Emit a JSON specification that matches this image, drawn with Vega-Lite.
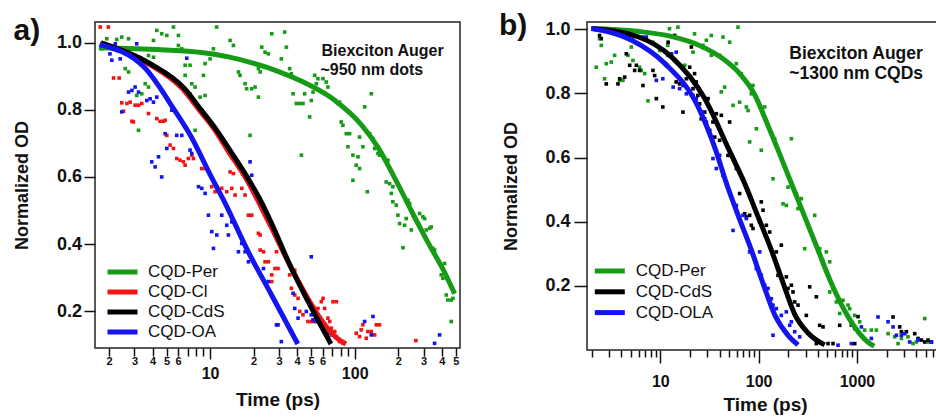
{
  "$schema": "https://vega.github.io/schema/vega-lite/v6.json",
  "background": "white",
  "padding": {"left": 12, "top": 10, "right": 0, "bottom": 0},
  "config": {
    "font": "Liberation Sans",
    "view": {"stroke": "#222222", "strokeWidth": 1.5},
    "axis": {"domain": false, "grid": false, "tickColor": "#111111", "tickWidth": 1.5, "labelColor": "#111111", "titleColor": "#111111", "labelFont": "Liberation Sans", "titleFont": "Liberation Sans", "labelFlush": false, "labelOverlap": false}
  },
  "datasets": {
    "apts": [
      {"s":"CQD-Per","t":1.93,"v":1.012},{"s":"CQD-Per","t":2.26,"v":1.010},{"s":"CQD-Per","t":2.45,"v":1.017},{"s":"CQD-Per","t":2.73,"v":1.012},{"s":"CQD-Per","t":1.78,"v":0.982},{"s":"CQD-Per","t":4.28,"v":1.037},{"s":"CQD-Per","t":4.63,"v":1.027},{"s":"CQD-Per","t":5.02,"v":1.022},{"s":"CQD-Per","t":5.58,"v":1.047},{"s":"CQD-Per","t":6.04,"v":1.022},{"s":"CQD-Per","t":11.1,"v":1.047},{"s":"CQD-Per","t":4.06,"v":1.007},{"s":"CQD-Per","t":3.65,"v":0.982},{"s":"CQD-Per","t":3.75,"v":0.962},{"s":"CQD-Per","t":4.06,"v":0.957},{"s":"CQD-Per","t":6.04,"v":0.992},{"s":"CQD-Per","t":6.37,"v":0.982},{"s":"CQD-Per","t":10.0,"v":0.952},{"s":"CQD-Per","t":10.55,"v":0.982},{"s":"CQD-Per","t":13.75,"v":1.007},{"s":"CQD-Per","t":14.5,"v":0.992},{"s":"CQD-Per","t":15.71,"v":0.913},{"s":"CQD-Per","t":16.1,"v":0.903},{"s":"CQD-Per","t":6.72,"v":0.933},{"s":"CQD-Per","t":7.27,"v":0.933},{"s":"CQD-Per","t":6.72,"v":0.903},{"s":"CQD-Per","t":9.0,"v":0.903},{"s":"CQD-Per","t":9.24,"v":0.938},{"s":"CQD-Per","t":7.47,"v":0.878},{"s":"CQD-Per","t":7.88,"v":0.868},{"s":"CQD-Per","t":7.27,"v":0.848},{"s":"CQD-Per","t":8.53,"v":0.838},{"s":"CQD-Per","t":9.24,"v":0.843},{"s":"CQD-Per","t":17.46,"v":0.878},{"s":"CQD-Per","t":17.9,"v":0.863},{"s":"CQD-Per","t":19.41,"v":0.863},{"s":"CQD-Per","t":20.47,"v":0.868},{"s":"CQD-Per","t":21.59,"v":0.838},{"s":"CQD-Per","t":22.76,"v":0.987},{"s":"CQD-Per","t":24.0,"v":0.972},{"s":"CQD-Per","t":25.3,"v":0.967},{"s":"CQD-Per","t":21.59,"v":0.923},{"s":"CQD-Per","t":22.2,"v":0.913},{"s":"CQD-Per","t":3.56,"v":0.878},{"s":"CQD-Per","t":3.75,"v":0.868},{"s":"CQD-Per","t":3.11,"v":0.843},{"s":"CQD-Per","t":3.37,"v":0.848},{"s":"CQD-Per","t":3.20,"v":0.739},{"s":"CQD-Per","t":7.88,"v":0.739},{"s":"CQD-Per","t":18.9,"v":0.724},{"s":"CQD-Per","t":26.7,"v":1.027},{"s":"CQD-Per","t":2.59,"v":0.923},{"s":"CQD-Per","t":2.73,"v":0.913},
      {"s":"CQD-Per","t":32.8,"v":1.032},{"s":"CQD-Per","t":33.7,"v":0.987},{"s":"CQD-Per","t":31.1,"v":0.952},{"s":"CQD-Per","t":35.5,"v":0.923},{"s":"CQD-Per","t":36.5,"v":0.908},{"s":"CQD-Per","t":37.5,"v":0.848},{"s":"CQD-Per","t":39.5,"v":0.819},{"s":"CQD-Per","t":41.7,"v":0.819},{"s":"CQD-Per","t":43.9,"v":0.819},{"s":"CQD-Per","t":45.1,"v":0.848},{"s":"CQD-Per","t":48.8,"v":0.779},{"s":"CQD-Per","t":50.1,"v":0.828},{"s":"CQD-Per","t":51.5,"v":0.853},{"s":"CQD-Per","t":52.9,"v":0.903},{"s":"CQD-Per","t":55.7,"v":0.893},{"s":"CQD-Per","t":54.3,"v":0.878},{"s":"CQD-Per","t":58.8,"v":0.853},{"s":"CQD-Per","t":60.4,"v":0.893},{"s":"CQD-Per","t":63.6,"v":0.883},{"s":"CQD-Per","t":65.3,"v":0.868},{"s":"CQD-Per","t":76.7,"v":0.819},{"s":"CQD-Per","t":78.6,"v":0.823},{"s":"CQD-Per","t":80.7,"v":0.764},{"s":"CQD-Per","t":82.9,"v":0.754},{"s":"CQD-Per","t":87.5,"v":0.729},{"s":"CQD-Per","t":92.2,"v":0.729},{"s":"CQD-Per","t":89.8,"v":0.690},{"s":"CQD-Per","t":97.2,"v":0.665},{"s":"CQD-Per","t":102.5,"v":0.635},{"s":"CQD-Per","t":105.4,"v":0.660},{"s":"CQD-Per","t":108.1,"v":0.719},{"s":"CQD-Per","t":108.1,"v":0.625},{"s":"CQD-Per","t":114,"v":0.690},{"s":"CQD-Per","t":117.2,"v":0.809},{"s":"CQD-Per","t":130.3,"v":0.848},{"s":"CQD-Per","t":127,"v":0.729},{"s":"CQD-Per","t":133.8,"v":0.714},{"s":"CQD-Per","t":137.4,"v":0.685},{"s":"CQD-Per","t":144.9,"v":0.670},{"s":"CQD-Per","t":148.5,"v":0.665},{"s":"CQD-Per","t":161.1,"v":0.655},{"s":"CQD-Per","t":165.2,"v":0.585},{"s":"CQD-Per","t":169.8,"v":0.650},{"s":"CQD-Per","t":174.4,"v":0.580},{"s":"CQD-Per","t":183.6,"v":0.571},{"s":"CQD-Per","t":179.1,"v":0.551},{"s":"CQD-Per","t":183.6,"v":0.526},{"s":"CQD-Per","t":194,"v":0.516},{"s":"CQD-Per","t":199.1,"v":0.486},{"s":"CQD-Per","t":204.5,"v":0.461},{"s":"CQD-Per","t":221.4,"v":0.456},{"s":"CQD-Per","t":227.3,"v":0.476},{"s":"CQD-Per","t":233.5,"v":0.531},{"s":"CQD-Per","t":239.9,"v":0.521},{"s":"CQD-Per","t":246.3,"v":0.442},{"s":"CQD-Per","t":252.9,"v":0.486},{"s":"CQD-Per","t":259.8,"v":0.476},{"s":"CQD-Per","t":281.1,"v":0.491},{"s":"CQD-Per","t":296.3,"v":0.481},{"s":"CQD-Per","t":304.5,"v":0.476},{"s":"CQD-Per","t":312.6,"v":0.442},{"s":"CQD-Per","t":329.6,"v":0.447},{"s":"CQD-Per","t":338.6,"v":0.451},{"s":"CQD-Per","t":347.6,"v":0.387},{"s":"CQD-Per","t":356.9,"v":0.382},{"s":"CQD-Per","t":397,"v":0.308},{"s":"CQD-Per","t":407.6,"v":0.298},{"s":"CQD-Per","t":418.6,"v":0.342},{"s":"CQD-Per","t":429.8,"v":0.248},{"s":"CQD-Per","t":441.3,"v":0.233},{"s":"CQD-Per","t":465.5,"v":0.233},{"s":"CQD-Per","t":478,"v":0.238},{"s":"CQD-Per","t":465.5,"v":0.169},{"s":"CQD-Per","t":42.8,"v":0.665},{"s":"CQD-Per","t":97.2,"v":0.590},{"s":"CQD-Per","t":122.3,"v":0.556},{"s":"CQD-Per","t":215.9,"v":0.389},
      {"s":"CQD-Cl","t":1.74,"v":1.047},{"s":"CQD-Cl","t":1.98,"v":1.047},{"s":"CQD-Cl","t":2.15,"v":0.895},{"s":"CQD-Cl","t":2.35,"v":0.895},{"s":"CQD-Cl","t":2.45,"v":0.821},{"s":"CQD-Cl","t":2.66,"v":0.819},{"s":"CQD-Cl","t":2.80,"v":0.823},{"s":"CQD-Cl","t":3.03,"v":0.814},{"s":"CQD-Cl","t":2.52,"v":0.796},{"s":"CQD-Cl","t":2.88,"v":0.766},{"s":"CQD-Cl","t":2.95,"v":0.764},{"s":"CQD-Cl","t":3.20,"v":0.814},{"s":"CQD-Cl","t":3.37,"v":0.819},{"s":"CQD-Cl","t":3.75,"v":0.789},{"s":"CQD-Cl","t":4.28,"v":0.774},{"s":"CQD-Cl","t":4.51,"v":0.766},{"s":"CQD-Cl","t":4.76,"v":0.766},{"s":"CQD-Cl","t":4.89,"v":0.769},{"s":"CQD-Cl","t":5.02,"v":0.724},{"s":"CQD-Cl","t":5.29,"v":0.695},{"s":"CQD-Cl","t":5.58,"v":0.685},{"s":"CQD-Cl","t":5.88,"v":0.655},{"s":"CQD-Cl","t":6.2,"v":0.650},{"s":"CQD-Cl","t":6.54,"v":0.645},{"s":"CQD-Cl","t":6.72,"v":0.635},{"s":"CQD-Cl","t":7.08,"v":0.655},{"s":"CQD-Cl","t":7.47,"v":0.665},{"s":"CQD-Cl","t":7.67,"v":0.655},{"s":"CQD-Cl","t":8.76,"v":0.625},{"s":"CQD-Cl","t":9.24,"v":0.625},{"s":"CQD-Cl","t":10.27,"v":0.571},{"s":"CQD-Cl","t":10.83,"v":0.556},{"s":"CQD-Cl","t":11.12,"v":0.571},{"s":"CQD-Cl","t":12.04,"v":0.566},{"s":"CQD-Cl","t":13.04,"v":0.556},{"s":"CQD-Cl","t":14.12,"v":0.566},{"s":"CQD-Cl","t":14.89,"v":0.546},{"s":"CQD-Cl","t":16.56,"v":0.566},{"s":"CQD-Cl","t":17.46,"v":0.546},{"s":"CQD-Cl","t":13.75,"v":0.615},{"s":"CQD-Cl","t":14.5,"v":0.610},{"s":"CQD-Cl","t":18.41,"v":0.486},{"s":"CQD-Cl","t":19.41,"v":0.486},{"s":"CQD-Cl","t":21.59,"v":0.432},{"s":"CQD-Cl","t":22.2,"v":0.427},{"s":"CQD-Cl","t":22.2,"v":0.382},{"s":"CQD-Cl","t":23.4,"v":0.377},{"s":"CQD-Cl","t":24.0,"v":0.347},{"s":"CQD-Cl","t":25.3,"v":0.347},{"s":"CQD-Cl","t":26.7,"v":0.308},{"s":"CQD-Cl","t":28.8,"v":0.377},{"s":"CQD-Cl","t":28.1,"v":0.327},{"s":"CQD-Cl","t":26.7,"v":0.288},
      {"s":"CQD-Cl","t":29.5,"v":0.327},{"s":"CQD-Cl","t":36.5,"v":0.327},{"s":"CQD-Cl","t":38.5,"v":0.322},{"s":"CQD-Cl","t":35.5,"v":0.308},{"s":"CQD-Cl","t":36.5,"v":0.268},{"s":"CQD-Cl","t":38.5,"v":0.248},{"s":"CQD-Cl","t":40.6,"v":0.238},{"s":"CQD-Cl","t":41.7,"v":0.199},{"s":"CQD-Cl","t":43.9,"v":0.189},{"s":"CQD-Cl","t":47.5,"v":0.169},{"s":"CQD-Cl","t":50.1,"v":0.169},{"s":"CQD-Cl","t":52.9,"v":0.169},{"s":"CQD-Cl","t":54.3,"v":0.189},{"s":"CQD-Cl","t":55.7,"v":0.208},{"s":"CQD-Cl","t":58.8,"v":0.228},{"s":"CQD-Cl","t":60.4,"v":0.238},{"s":"CQD-Cl","t":62.0,"v":0.208},{"s":"CQD-Cl","t":65.3,"v":0.179},{"s":"CQD-Cl","t":67.2,"v":0.169},{"s":"CQD-Cl","t":69.0,"v":0.149},{"s":"CQD-Cl","t":72.8,"v":0.139},{"s":"CQD-Cl","t":74.7,"v":0.124},{"s":"CQD-Cl","t":70.8,"v":0.228},{"s":"CQD-Cl","t":74.7,"v":0.228},{"s":"CQD-Cl","t":78.6,"v":0.109},{"s":"CQD-Cl","t":83.1,"v":0.104},{"s":"CQD-Cl","t":102.5,"v":0.134},{"s":"CQD-Cl","t":108.1,"v":0.124},{"s":"CQD-Cl","t":111,"v":0.144},{"s":"CQD-Cl","t":114,"v":0.159},{"s":"CQD-Cl","t":120.2,"v":0.119},{"s":"CQD-Cl","t":123.4,"v":0.139},{"s":"CQD-Cl","t":130.3,"v":0.139},{"s":"CQD-Cl","t":137.4,"v":0.129},{"s":"CQD-Cl","t":141.1,"v":0.159},{"s":"CQD-Cl","t":148.5,"v":0.159},{"s":"CQD-Cl","t":265,"v":0.112},
      {"s":"CQD-OA","t":2.03,"v":0.967},{"s":"CQD-OA","t":2.21,"v":0.997},{"s":"CQD-OA","t":3.11,"v":0.997},{"s":"CQD-OA","t":2.09,"v":0.948},{"s":"CQD-OA","t":2.73,"v":0.853},{"s":"CQD-OA","t":2.88,"v":0.858},{"s":"CQD-OA","t":3.03,"v":0.868},{"s":"CQD-OA","t":3.20,"v":0.853},{"s":"CQD-OA","t":2.45,"v":0.794},{"s":"CQD-OA","t":3.65,"v":0.828},{"s":"CQD-OA","t":3.85,"v":0.833},{"s":"CQD-OA","t":4.06,"v":0.823},{"s":"CQD-OA","t":4.28,"v":0.838},{"s":"CQD-OA","t":4.89,"v":0.729},{"s":"CQD-OA","t":5.02,"v":0.685},{"s":"CQD-OA","t":5.43,"v":0.799},{"s":"CQD-OA","t":5.88,"v":0.724},{"s":"CQD-OA","t":6.37,"v":0.724},{"s":"CQD-OA","t":7.27,"v":0.680},{"s":"CQD-OA","t":7.47,"v":0.670},{"s":"CQD-OA","t":3.95,"v":0.645},{"s":"CQD-OA","t":4.17,"v":0.630},{"s":"CQD-OA","t":4.40,"v":0.660},{"s":"CQD-OA","t":4.63,"v":0.600},{"s":"CQD-OA","t":8.31,"v":0.571},{"s":"CQD-OA","t":8.76,"v":0.566},{"s":"CQD-OA","t":9.24,"v":0.551},{"s":"CQD-OA","t":9.74,"v":0.486},{"s":"CQD-OA","t":10.27,"v":0.437},{"s":"CQD-OA","t":11.12,"v":0.427},{"s":"CQD-OA","t":10.55,"v":0.387},{"s":"CQD-OA","t":12.04,"v":0.486},{"s":"CQD-OA","t":13.04,"v":0.456},{"s":"CQD-OA","t":13.39,"v":0.427},{"s":"CQD-OA","t":14.12,"v":0.466},{"s":"CQD-OA","t":15.71,"v":0.377},{"s":"CQD-OA","t":16.56,"v":0.402},{"s":"CQD-OA","t":17.46,"v":0.377},{"s":"CQD-OA","t":18.41,"v":0.347},{"s":"CQD-OA","t":18.9,"v":0.645},{"s":"CQD-OA","t":19.41,"v":0.605},{"s":"CQD-OA","t":23.4,"v":0.327},{"s":"CQD-OA","t":25.3,"v":0.288},{"s":"CQD-OA","t":28.8,"v":0.159},{"s":"CQD-OA","t":6.9,"v":0.954},{"s":"CQD-OA","t":2.39,"v":0.952},
      {"s":"CQD-OA","t":50.1,"v":0.362},{"s":"CQD-OA","t":37.5,"v":0.253},{"s":"CQD-OA","t":38.5,"v":0.208},{"s":"CQD-OA","t":40.6,"v":0.179},{"s":"CQD-OA","t":46.3,"v":0.199},{"s":"CQD-OA","t":50.1,"v":0.189},{"s":"CQD-OA","t":51.5,"v":0.174},{"s":"CQD-OA","t":54.3,"v":0.169},{"s":"CQD-OA","t":57.2,"v":0.164},{"s":"CQD-OA","t":62.0,"v":0.154},{"s":"CQD-OA","t":65.3,"v":0.134},{"s":"CQD-OA","t":69.0,"v":0.129},{"s":"CQD-OA","t":29.5,"v":0.159},{"s":"CQD-OA","t":31.1,"v":0.109},{"s":"CQD-OA","t":117.2,"v":0.169},{"s":"CQD-OA","t":133.8,"v":0.184},{"s":"CQD-OA","t":130.3,"v":0.129},{"s":"CQD-OA","t":356.9,"v":0.104},{"s":"CQD-OA","t":386.6,"v":0.129}
    ],
    "afit": [
      {"s":"CQD-Per","t":1.7,"v":0.985},{"s":"CQD-Per","t":4.6,"v":0.979},{"s":"CQD-Per","t":8.7,"v":0.971},{"s":"CQD-Per","t":13.4,"v":0.958},{"s":"CQD-Per","t":19.2,"v":0.941},{"s":"CQD-Per","t":29.5,"v":0.915},{"s":"CQD-Per","t":42.6,"v":0.886},{"s":"CQD-Per","t":72,"v":0.830},{"s":"CQD-Per","t":113,"v":0.752},{"s":"CQD-Per","t":145,"v":0.688},{"s":"CQD-Per","t":189,"v":0.597},{"s":"CQD-Per","t":246,"v":0.500},{"s":"CQD-Per","t":321,"v":0.405},{"s":"CQD-Per","t":419,"v":0.315},{"s":"CQD-Per","t":491,"v":0.252},
      {"s":"CQD-Cl","t":1.76,"v":1.0},{"s":"CQD-Cl","t":3.8,"v":0.936},{"s":"CQD-Cl","t":6.4,"v":0.864},{"s":"CQD-Cl","t":8.4,"v":0.80},{"s":"CQD-Cl","t":10.7,"v":0.742},{"s":"CQD-Cl","t":13.3,"v":0.678},{"s":"CQD-Cl","t":18.0,"v":0.59},{"s":"CQD-Cl","t":25.8,"v":0.46},{"s":"CQD-Cl","t":36.3,"v":0.33},{"s":"CQD-Cl","t":48.5,"v":0.231},{"s":"CQD-Cl","t":62,"v":0.16},{"s":"CQD-Cl","t":75,"v":0.12},{"s":"CQD-Cl","t":87,"v":0.102},
      {"s":"CQD-CdS","t":1.76,"v":1.0},{"s":"CQD-CdS","t":3.91,"v":0.936},{"s":"CQD-CdS","t":6.64,"v":0.864},{"s":"CQD-CdS","t":8.67,"v":0.80},{"s":"CQD-CdS","t":11.0,"v":0.742},{"s":"CQD-CdS","t":13.8,"v":0.678},{"s":"CQD-CdS","t":18.5,"v":0.592},{"s":"CQD-CdS","t":22,"v":0.535},{"s":"CQD-CdS","t":26.4,"v":0.465},{"s":"CQD-CdS","t":36.3,"v":0.33},{"s":"CQD-CdS","t":47.3,"v":0.231},{"s":"CQD-CdS","t":68.5,"v":0.102},
      {"s":"CQD-OA","t":1.72,"v":0.995},{"s":"CQD-OA","t":3.52,"v":0.926},{"s":"CQD-OA","t":5.66,"v":0.80},{"s":"CQD-OA","t":7.4,"v":0.72},{"s":"CQD-OA","t":10.2,"v":0.60},{"s":"CQD-OA","t":12.6,"v":0.525},{"s":"CQD-OA","t":18.2,"v":0.38},{"s":"CQD-OA","t":26.4,"v":0.251},{"s":"CQD-OA","t":40.4,"v":0.102}
    ],
    "atxt": [
      {"t":59,"v":0.975,"label":"Biexciton Auger"},
      {"t":58,"v":0.918,"label":"~950 nm dots"}
    ],
    "bpts": [
      {"s":"CQD-Per","t":2.23,"v":0.882},{"s":"CQD-Per","t":2.41,"v":0.971},{"s":"CQD-Per","t":2.51,"v":0.950},{"s":"CQD-Per","t":2.71,"v":0.846},{"s":"CQD-Per","t":2.82,"v":0.893},{"s":"CQD-Per","t":3.17,"v":0.898},{"s":"CQD-Per","t":3.43,"v":0.919},{"s":"CQD-Per","t":3.86,"v":0.841},{"s":"CQD-Per","t":4.17,"v":0.841},{"s":"CQD-Per","t":4.69,"v":0.919},{"s":"CQD-Per","t":5.07,"v":0.945},{"s":"CQD-Per","t":5.27,"v":0.903},{"s":"CQD-Per","t":6.16,"v":0.882},{"s":"CQD-Per","t":6.41,"v":0.872},{"s":"CQD-Per","t":6.93,"v":0.862},{"s":"CQD-Per","t":7.49,"v":0.777},{"s":"CQD-Per","t":8.42,"v":0.960},{"s":"CQD-Per","t":9.84,"v":0.934},{"s":"CQD-Per","t":11.9,"v":0.950},{"s":"CQD-Per","t":12.4,"v":1.002},{"s":"CQD-Per","t":14.0,"v":0.976},{"s":"CQD-Per","t":15.1,"v":1.007},{"s":"CQD-Per","t":17.7,"v":0.888},{"s":"CQD-Per","t":21.5,"v":0.929},{"s":"CQD-Per","t":22.3,"v":0.986},{"s":"CQD-Per","t":27.2,"v":0.950},{"s":"CQD-Per","t":29.4,"v":0.966},{"s":"CQD-Per","t":33.0,"v":0.981},{"s":"CQD-Per","t":33.0,"v":0.919},{"s":"CQD-Per","t":40.1,"v":0.919},{"s":"CQD-Per","t":41.7,"v":0.805},{"s":"CQD-Per","t":43.4,"v":0.976},{"s":"CQD-Per","t":45.1,"v":0.820},{"s":"CQD-Per","t":50.7,"v":0.960},{"s":"CQD-Per","t":54.9,"v":0.763},{"s":"CQD-Per","t":59.3,"v":0.893},{"s":"CQD-Per","t":61.7,"v":1.007},{"s":"CQD-Per","t":64.1,"v":0.773},{"s":"CQD-Per","t":66.7,"v":0.862},{"s":"CQD-Per","t":75.0,"v":0.758},{"s":"CQD-Per","t":78.0,"v":0.747},{"s":"CQD-Per","t":81.0,"v":0.649},{"s":"CQD-Per","t":84.3,"v":0.799},{"s":"CQD-Per","t":87.6,"v":0.825},{"s":"CQD-Per","t":94.8,"v":0.690},{"s":"CQD-Per","t":106.4,"v":0.623},
      {"s":"CQD-Per","t":115.2,"v":0.758},{"s":"CQD-Per","t":145.6,"v":0.659},{"s":"CQD-Per","t":215.1,"v":0.659},{"s":"CQD-Per","t":140,"v":0.534},{"s":"CQD-Per","t":177,"v":0.456},{"s":"CQD-Per","t":191.3,"v":0.451},{"s":"CQD-Per","t":199,"v":0.508},{"s":"CQD-Per","t":241.8,"v":0.488},{"s":"CQD-Per","t":251.5,"v":0.441},{"s":"CQD-Per","t":271.9,"v":0.472},{"s":"CQD-Per","t":371.6,"v":0.420},{"s":"CQD-Per","t":293.9,"v":0.316},{"s":"CQD-Per","t":417.8,"v":0.316},{"s":"CQD-Per","t":451.7,"v":0.275},{"s":"CQD-Per","t":488.4,"v":0.306},{"s":"CQD-Per","t":528,"v":0.275},{"s":"CQD-Per","t":528,"v":0.181},{"s":"CQD-Per","t":570.9,"v":0.192},{"s":"CQD-Per","t":617.3,"v":0.150},{"s":"CQD-Per","t":667.4,"v":0.114},{"s":"CQD-Per","t":721.6,"v":0.155},{"s":"CQD-Per","t":811.5,"v":0.140},{"s":"CQD-Per","t":843.8,"v":0.129},{"s":"CQD-Per","t":948.4,"v":0.108},{"s":"CQD-Per","t":1066,"v":0.088},{"s":"CQD-Per","t":1199,"v":0.062},{"s":"CQD-Per","t":1401,"v":0.062},{"s":"CQD-Per","t":1576,"v":0.062},{"s":"CQD-Per","t":2071,"v":0.051},{"s":"CQD-Per","t":2421,"v":0.041},{"s":"CQD-Per","t":2617,"v":0.020},{"s":"CQD-Per","t":2830,"v":0.036},{"s":"CQD-Per","t":3307,"v":0.041},{"s":"CQD-Per","t":4021,"v":0.025},{"s":"CQD-Per","t":4887,"v":0.098},{"s":"CQD-Per","t":3719,"v":0.020},{"s":"CQD-Per","t":5284,"v":0.025},
      {"s":"CQD-CdS","t":2.41,"v":0.981},{"s":"CQD-CdS","t":2.51,"v":0.971},{"s":"CQD-CdS","t":2.82,"v":0.830},{"s":"CQD-CdS","t":3.71,"v":0.830},{"s":"CQD-CdS","t":3.86,"v":0.846},{"s":"CQD-CdS","t":4.51,"v":0.924},{"s":"CQD-CdS","t":4.34,"v":0.851},{"s":"CQD-CdS","t":4.88,"v":0.888},{"s":"CQD-CdS","t":5.48,"v":0.872},{"s":"CQD-CdS","t":5.70,"v":0.888},{"s":"CQD-CdS","t":6.16,"v":0.872},{"s":"CQD-CdS","t":6.66,"v":0.825},{"s":"CQD-CdS","t":8.42,"v":0.872},{"s":"CQD-CdS","t":8.76,"v":0.856},{"s":"CQD-CdS","t":9.11,"v":0.784},{"s":"CQD-CdS","t":10.6,"v":0.758},{"s":"CQD-CdS","t":12.0,"v":0.960},{"s":"CQD-CdS","t":14.0,"v":0.981},{"s":"CQD-CdS","t":14.0,"v":0.903},{"s":"CQD-CdS","t":14.5,"v":0.836},{"s":"CQD-CdS","t":15.7,"v":0.830},{"s":"CQD-CdS","t":17.0,"v":0.742},{"s":"CQD-CdS","t":18.4,"v":0.846},{"s":"CQD-CdS","t":19.9,"v":0.882},{"s":"CQD-CdS","t":20.7,"v":0.945},{"s":"CQD-CdS","t":21.5,"v":0.815},{"s":"CQD-CdS","t":22.3,"v":0.862},{"s":"CQD-CdS","t":23.2,"v":0.836},{"s":"CQD-CdS","t":24.1,"v":0.794},{"s":"CQD-CdS","t":25.1,"v":0.768},{"s":"CQD-CdS","t":26.1,"v":0.721},{"s":"CQD-CdS","t":28.3,"v":0.742},{"s":"CQD-CdS","t":30.6,"v":0.784},{"s":"CQD-CdS","t":31.8,"v":0.685},{"s":"CQD-CdS","t":34.3,"v":0.711},{"s":"CQD-CdS","t":35.7,"v":0.664},{"s":"CQD-CdS","t":37.1,"v":0.737},{"s":"CQD-CdS","t":40.1,"v":0.654},{"s":"CQD-CdS","t":41.7,"v":0.732},{"s":"CQD-CdS","t":46.9,"v":0.643},{"s":"CQD-CdS","t":48.8,"v":0.607},{"s":"CQD-CdS","t":50.7,"v":0.711},{"s":"CQD-CdS","t":54.9,"v":0.597},{"s":"CQD-CdS","t":59.3,"v":0.566},{"s":"CQD-CdS","t":64.1,"v":0.488},{"s":"CQD-CdS","t":69.3,"v":0.534},{"s":"CQD-CdS","t":72.1,"v":0.425},{"s":"CQD-CdS","t":75.0,"v":0.415},{"s":"CQD-CdS","t":81.0,"v":0.420},{"s":"CQD-CdS","t":84.3,"v":0.389},{"s":"CQD-CdS","t":87.6,"v":0.379},{"s":"CQD-CdS","t":102.4,"v":0.399},{"s":"CQD-CdS","t":106.4,"v":0.462},
      {"s":"CQD-CdS","t":110.8,"v":0.436},{"s":"CQD-CdS","t":119.8,"v":0.389},{"s":"CQD-CdS","t":129.5,"v":0.368},{"s":"CQD-CdS","t":151.4,"v":0.306},{"s":"CQD-CdS","t":157.4,"v":0.233},{"s":"CQD-CdS","t":170.2,"v":0.327},{"s":"CQD-CdS","t":191.3,"v":0.228},{"s":"CQD-CdS","t":199,"v":0.192},{"s":"CQD-CdS","t":215.1,"v":0.202},{"s":"CQD-CdS","t":223.7,"v":0.181},{"s":"CQD-CdS","t":232.6,"v":0.150},{"s":"CQD-CdS","t":251.5,"v":0.140},{"s":"CQD-CdS","t":305.6,"v":0.108},{"s":"CQD-CdS","t":330.5,"v":0.197},{"s":"CQD-CdS","t":386.4,"v":0.166},{"s":"CQD-CdS","t":417.8,"v":0.077},{"s":"CQD-CdS","t":451.7,"v":0.072},{"s":"CQD-CdS","t":507.8,"v":0.020},{"s":"CQD-CdS","t":570.9,"v":0.020},{"s":"CQD-CdS","t":667.4,"v":0.077},{"s":"CQD-CdS","t":386.4,"v":0.020},{"s":"CQD-CdS","t":948.4,"v":0.020},{"s":"CQD-CdS","t":877,"v":0.078},{"s":"CQD-CdS","t":1025,"v":0.104},{"s":"CQD-CdS","t":2328,"v":0.103},{"s":"CQD-CdS","t":2721,"v":0.072},{"s":"CQD-CdS","t":2830,"v":0.057},{"s":"CQD-CdS","t":3181,"v":0.057},{"s":"CQD-CdS","t":3867,"v":0.051},{"s":"CQD-CdS","t":4181,"v":0.036},{"s":"CQD-CdS","t":4521,"v":0.031},{"s":"CQD-CdS","t":4887,"v":0.025},{"s":"CQD-CdS","t":5284,"v":0.031},{"s":"CQD-CdS","t":5714,"v":0.025},
      {"s":"CQD-OLA","t":6.66,"v":0.976},{"s":"CQD-OLA","t":7.20,"v":0.976},{"s":"CQD-OLA","t":9.11,"v":0.841},{"s":"CQD-OLA","t":10.6,"v":0.846},{"s":"CQD-OLA","t":12.0,"v":0.919},{"s":"CQD-OLA","t":13.0,"v":0.924},{"s":"CQD-OLA","t":13.5,"v":0.820},{"s":"CQD-OLA","t":14.5,"v":0.929},{"s":"CQD-OLA","t":15.7,"v":0.815},{"s":"CQD-OLA","t":17.0,"v":0.825},{"s":"CQD-OLA","t":18.4,"v":0.799},{"s":"CQD-OLA","t":21.5,"v":0.794},{"s":"CQD-OLA","t":23.2,"v":0.784},{"s":"CQD-OLA","t":27.2,"v":0.742},{"s":"CQD-OLA","t":28.3,"v":0.721},{"s":"CQD-OLA","t":29.4,"v":0.711},{"s":"CQD-OLA","t":31.8,"v":0.670},{"s":"CQD-OLA","t":34.3,"v":0.597},{"s":"CQD-OLA","t":37.1,"v":0.566},{"s":"CQD-OLA","t":40.1,"v":0.607},{"s":"CQD-OLA","t":43.4,"v":0.545},{"s":"CQD-OLA","t":46.9,"v":0.524},{"s":"CQD-OLA","t":54.9,"v":0.373},{"s":"CQD-OLA","t":59.3,"v":0.451},{"s":"CQD-OLA","t":69.3,"v":0.420},{"s":"CQD-OLA","t":75.0,"v":0.410},{"s":"CQD-OLA","t":81.0,"v":0.306},{"s":"CQD-OLA","t":87.6,"v":0.295},{"s":"CQD-OLA","t":102.4,"v":0.306},{"s":"CQD-OLA","t":94.8,"v":0.254},
      {"s":"CQD-OLA","t":106.5,"v":0.233},{"s":"CQD-OLA","t":115.2,"v":0.202},{"s":"CQD-OLA","t":124.5,"v":0.192},{"s":"CQD-OLA","t":134.6,"v":0.160},{"s":"CQD-OLA","t":140,"v":0.140},{"s":"CQD-OLA","t":151.4,"v":0.129},{"s":"CQD-OLA","t":170.2,"v":0.108},{"s":"CQD-OLA","t":191.3,"v":0.119},{"s":"CQD-OLA","t":215.1,"v":0.088},{"s":"CQD-OLA","t":206.9,"v":0.077},{"s":"CQD-OLA","t":232.6,"v":0.057},{"s":"CQD-OLA","t":261.5,"v":0.041},{"s":"CQD-OLA","t":140,"v":0.046},{"s":"CQD-OLA","t":641.9,"v":0.015},{"s":"CQD-OLA","t":877,"v":0.020},{"s":"CQD-OLA","t":948.4,"v":0.067},{"s":"CQD-OLA","t":1109,"v":0.072},{"s":"CQD-OLA","t":1401,"v":0.036},{"s":"CQD-OLA","t":1638,"v":0.103},{"s":"CQD-OLA","t":2071,"v":0.088},{"s":"CQD-OLA","t":2328,"v":0.072},{"s":"CQD-OLA","t":2517,"v":0.046},{"s":"CQD-OLA","t":2830,"v":0.046},{"s":"CQD-OLA","t":3059,"v":0.051},{"s":"CQD-OLA","t":3439,"v":0.025},{"s":"CQD-OLA","t":4181,"v":0.031},{"s":"CQD-OLA","t":5714,"v":0.025}
    ],
    "bfit": [
      {"s":"CQD-Per","t":1.99,"v":1.003},{"s":"CQD-Per","t":5.9,"v":0.994},{"s":"CQD-Per","t":12.9,"v":0.978},{"s":"CQD-Per","t":25,"v":0.95},{"s":"CQD-Per","t":41.7,"v":0.912},{"s":"CQD-Per","t":65,"v":0.86},{"s":"CQD-Per","t":91,"v":0.797},{"s":"CQD-Per","t":120,"v":0.712},{"s":"CQD-Per","t":157.4,"v":0.624},{"s":"CQD-Per","t":215.1,"v":0.520},{"s":"CQD-Per","t":293.9,"v":0.416},{"s":"CQD-Per","t":401.6,"v":0.312},{"s":"CQD-Per","t":549,"v":0.208},{"s":"CQD-Per","t":811,"v":0.104},{"s":"CQD-Per","t":1297,"v":0.024},{"s":"CQD-Per","t":1500,"v":0.012},
      {"s":"CQD-CdS","t":1.99,"v":1.003},{"s":"CQD-CdS","t":5.93,"v":0.977},{"s":"CQD-CdS","t":12.9,"v":0.915},{"s":"CQD-CdS","t":28.2,"v":0.785},{"s":"CQD-CdS","t":50,"v":0.624},{"s":"CQD-CdS","t":72,"v":0.520},{"s":"CQD-CdS","t":98.6,"v":0.416},{"s":"CQD-CdS","t":134.6,"v":0.312},{"s":"CQD-CdS","t":176,"v":0.212},{"s":"CQD-CdS","t":232.4,"v":0.112},{"s":"CQD-CdS","t":318,"v":0.053},{"s":"CQD-CdS","t":469,"v":0.016},
      {"s":"CQD-OLA","t":1.99,"v":1.003},{"s":"CQD-OLA","t":5.07,"v":0.967},{"s":"CQD-OLA","t":11.1,"v":0.894},{"s":"CQD-OLA","t":24.2,"v":0.759},{"s":"CQD-OLA","t":36.5,"v":0.624},{"s":"CQD-OLA","t":47,"v":0.520},{"s":"CQD-OLA","t":62.5,"v":0.416},{"s":"CQD-OLA","t":84.3,"v":0.312},{"s":"CQD-OLA","t":110,"v":0.210},{"s":"CQD-OLA","t":145.6,"v":0.110},{"s":"CQD-OLA","t":200,"v":0.045},{"s":"CQD-OLA","t":251.5,"v":0.016}
    ],
    "btxt": [
      {"t":205,"v":0.924,"label":"Biexciton Auger"},
      {"t":205,"v":0.862,"label":"~1300 nm CQDs"}
    ]
  },
  "spacing": 32,
  "resolve": {"scale": {"color": "independent", "fill": "independent", "x": "independent", "y": "independent"}, "legend": {"color": "independent", "fill": "independent"}},
  "hconcat": [
    {
      "width": 365,
      "height": 326,
      "title": {"text": "a)", "anchor": "start", "frame": "bounds", "fontSize": 30, "fontWeight": "bold", "font": "Liberation Sans", "color": "#111111", "offset": 0, "dx": 0, "dy": 24},
      "encoding": {
        "x": {"field": "t", "type": "quantitative", "scale": {"type": "log", "domain": [1.6, 535], "nice": false},
          "axis": {
            "values": [2,3,4,5,6,7,8,9,10,20,30,40,50,60,70,80,90,100,200,300,400,500],
            "format": "d",
            "labelExpr": "(datum.value == 10 || datum.value == 100) ? datum.label : (indexof([2,3,4,5,6,20,30,40,50,60,200,300,400,500], datum.value) >= 0 ? substring(datum.label, 0, 1) : '')",
            "tickSize": {"condition": {"test": "datum.value == 10 || datum.value == 100", "value": 11}, "value": 8},
            "labelFontSize": {"condition": {"test": "datum.value == 10 || datum.value == 100", "value": 16}, "value": 11},
            "labelPadding": {"condition": {"test": "datum.value == 10 || datum.value == 100", "value": 6}, "value": 5},
            "labelBaseline": {"condition": {"test": "datum.value == 10 || datum.value == 100", "value": "top"}, "value": "middle"},
            "labelFontWeight": "bold",
            "title": "Time (ps)", "titleFontSize": 19, "titleFontWeight": "bold", "titlePadding": 9
          }},
        "y": {"field": "v", "type": "quantitative", "scale": {"domain": [0.09, 1.062], "nice": false, "zero": false},
          "axis": {"values": [0.2,0.4,0.6,0.8,1.0], "format": ".1f", "tickSize": 11, "labelFontSize": 18, "labelFontWeight": "bold", "labelPadding": 2.5, "title": "Normalized OD", "titleFontSize": 18, "titleFontWeight": "bold", "titlePadding": 25}}
      },
      "layer": [
        {"data": {"name": "apts"}, "mark": {"type": "square", "size": 13, "opacity": 1},
         "encoding": {"fill": {"field": "s", "type": "nominal", "scale": {"domain": ["CQD-OA","CQD-CdS","CQD-Cl","CQD-Per"], "range": ["#1414f0","#000000","#f21414","#169b16"]}, "legend": null}}},
        {"data": {"name": "afit"}, "transform": [{"filter": "datum.s == 'CQD-Per'"}], "mark": {"type": "line", "strokeWidth": 5, "interpolate": "monotone"},
         "encoding": {"color": {"field": "s", "type": "nominal", "scale": {"domain": ["CQD-Per","CQD-Cl","CQD-CdS","CQD-OA"], "range": ["#169b16","#f21414","#000000","#1414f0"]}, "legend": {"title": null, "orient": "none", "legendX": 17.5, "legendY": 240, "symbolType": "M-2,0H2", "symbolSize": 225, "symbolStrokeWidth": 5, "labelFontSize": 17, "labelFont": "Liberation Sans", "labelColor": "#111111", "labelOffset": 15.5, "rowPadding": -0.7, "padding": 0}}}},
        {"data": {"name": "afit"}, "transform": [{"filter": "datum.s == 'CQD-Cl'"}], "mark": {"type": "line", "strokeWidth": 5, "interpolate": "monotone"},
         "encoding": {"color": {"field": "s", "type": "nominal", "scale": {"domain": ["CQD-Per","CQD-Cl","CQD-CdS","CQD-OA"], "range": ["#169b16","#f21414","#000000","#1414f0"]}, "legend": {"title": null, "orient": "none", "legendX": 17.5, "legendY": 240, "symbolType": "M-2,0H2", "symbolSize": 225, "symbolStrokeWidth": 5, "labelFontSize": 17, "labelFont": "Liberation Sans", "labelColor": "#111111", "labelOffset": 15.5, "rowPadding": -0.7, "padding": 0}}}},
        {"data": {"name": "afit"}, "transform": [{"filter": "datum.s == 'CQD-CdS'"}], "mark": {"type": "line", "strokeWidth": 5, "interpolate": "monotone"},
         "encoding": {"color": {"field": "s", "type": "nominal", "scale": {"domain": ["CQD-Per","CQD-Cl","CQD-CdS","CQD-OA"], "range": ["#169b16","#f21414","#000000","#1414f0"]}, "legend": {"title": null, "orient": "none", "legendX": 17.5, "legendY": 240, "symbolType": "M-2,0H2", "symbolSize": 225, "symbolStrokeWidth": 5, "labelFontSize": 17, "labelFont": "Liberation Sans", "labelColor": "#111111", "labelOffset": 15.5, "rowPadding": -0.7, "padding": 0}}}},
        {"data": {"name": "afit"}, "transform": [{"filter": "datum.s == 'CQD-OA'"}], "mark": {"type": "line", "strokeWidth": 5, "interpolate": "monotone"},
         "encoding": {"color": {"field": "s", "type": "nominal", "scale": {"domain": ["CQD-Per","CQD-Cl","CQD-CdS","CQD-OA"], "range": ["#169b16","#f21414","#000000","#1414f0"]}, "legend": {"title": null, "orient": "none", "legendX": 17.5, "legendY": 240, "symbolType": "M-2,0H2", "symbolSize": 225, "symbolStrokeWidth": 5, "labelFontSize": 17, "labelFont": "Liberation Sans", "labelColor": "#111111", "labelOffset": 15.5, "rowPadding": -0.7, "padding": 0}}}},
        {"data": {"name": "atxt"}, "mark": {"type": "text", "align": "left", "baseline": "middle", "fontSize": 16, "fontWeight": "bold", "font": "Liberation Sans", "color": "#111111"},
         "encoding": {"text": {"field": "label", "type": "nominal"}}}
      ]
    },
    {
      "width": 356,
      "height": 328,
      "title": {"text": "b)", "anchor": "start", "frame": "bounds", "fontSize": 30, "fontWeight": "bold", "font": "Liberation Sans", "color": "#111111", "offset": 0, "dx": -4, "dy": 23},
      "encoding": {
        "x": {"field": "t", "type": "quantitative", "scale": {"type": "log", "domain": [1.796, 7500], "nice": false},
          "axis": {
            "values": [2,3,4,5,6,7,8,9,10,20,30,40,50,60,70,80,90,100,200,300,400,500,600,700,800,900,1000,2000,3000,4000,5000,6000],
            "format": "d",
            "labelExpr": "(datum.value == 10 || datum.value == 100 || datum.value == 1000) ? datum.label : ''",
            "tickSize": {"condition": {"test": "datum.value == 10 || datum.value == 100 || datum.value == 1000", "value": 13}, "value": 7},
            "labelFontSize": 16, "labelFontWeight": "bold", "labelPadding": 10,
            "title": "Time (ps)", "titleFontSize": 19, "titleFontWeight": "bold", "titlePadding": 6
          }},
        "y": {"field": "v", "type": "quantitative", "scale": {"domain": [0, 1.023], "nice": false, "zero": false},
          "axis": {"values": [0.2,0.4,0.6,0.8,1.0], "format": ".1f", "tickSize": 13, "labelFontSize": 18, "labelFontWeight": "bold", "labelPadding": 4, "title": "Normalized OD", "titleFontSize": 18, "titleFontWeight": "bold", "titlePadding": 24}}
      },
      "layer": [
        {"data": {"name": "bpts"}, "mark": {"type": "square", "size": 13, "opacity": 1},
         "encoding": {"fill": {"field": "s", "type": "nominal", "scale": {"domain": ["CQD-OLA","CQD-CdS","CQD-Per"], "range": ["#1414f0","#000000","#169b16"]}, "legend": null}}},
        {"data": {"name": "bfit"}, "transform": [{"filter": "datum.s == 'CQD-Per'"}], "mark": {"type": "line", "strokeWidth": 5, "interpolate": "monotone"},
         "encoding": {"color": {"field": "s", "type": "nominal", "scale": {"domain": ["CQD-Per","CQD-CdS","CQD-OLA"], "range": ["#169b16","#000000","#1414f0"]}, "legend": {"title": null, "orient": "none", "legendX": 12.8, "legendY": 239, "symbolType": "M-2,0H2", "symbolSize": 225, "symbolStrokeWidth": 5, "labelFontSize": 17, "labelFont": "Liberation Sans", "labelColor": "#111111", "labelOffset": 15.9, "rowPadding": 0.8, "padding": 0}}}},
        {"data": {"name": "bfit"}, "transform": [{"filter": "datum.s == 'CQD-CdS'"}], "mark": {"type": "line", "strokeWidth": 5, "interpolate": "monotone"},
         "encoding": {"color": {"field": "s", "type": "nominal", "scale": {"domain": ["CQD-Per","CQD-CdS","CQD-OLA"], "range": ["#169b16","#000000","#1414f0"]}, "legend": {"title": null, "orient": "none", "legendX": 12.8, "legendY": 239, "symbolType": "M-2,0H2", "symbolSize": 225, "symbolStrokeWidth": 5, "labelFontSize": 17, "labelFont": "Liberation Sans", "labelColor": "#111111", "labelOffset": 15.9, "rowPadding": 0.8, "padding": 0}}}},
        {"data": {"name": "bfit"}, "transform": [{"filter": "datum.s == 'CQD-OLA'"}], "mark": {"type": "line", "strokeWidth": 5, "interpolate": "monotone"},
         "encoding": {"color": {"field": "s", "type": "nominal", "scale": {"domain": ["CQD-Per","CQD-CdS","CQD-OLA"], "range": ["#169b16","#000000","#1414f0"]}, "legend": {"title": null, "orient": "none", "legendX": 12.8, "legendY": 239, "symbolType": "M-2,0H2", "symbolSize": 225, "symbolStrokeWidth": 5, "labelFontSize": 17, "labelFont": "Liberation Sans", "labelColor": "#111111", "labelOffset": 15.9, "rowPadding": 0.8, "padding": 0}}}},
        {"data": {"name": "btxt"}, "mark": {"type": "text", "align": "left", "baseline": "middle", "fontSize": 17.5, "fontWeight": "bold", "font": "Liberation Sans", "color": "#111111"},
         "encoding": {"text": {"field": "label", "type": "nominal"}}}
      ]
    }
  ]
}
